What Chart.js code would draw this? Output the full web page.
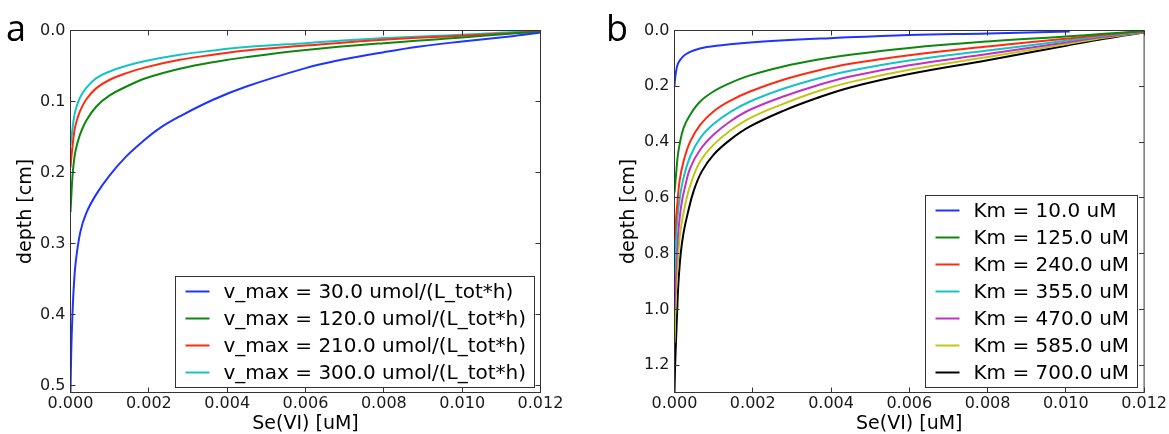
<!DOCTYPE html>
<html>
<head>
<meta charset="utf-8">
<script src="https://cdn.jsdelivr.net/npm/chart.js@4.4.1/dist/chart.umd.min.js"></script>
<style>
  html, body { margin: 0; padding: 0; background: #fff; }
  #wrap { position: relative; width: 1169px; height: 434px; overflow: hidden; }
  .panel { position: absolute; top: 0; height: 434px; }
  #pa { left: 0; width: 584px; }
  #pb { left: 584px; width: 585px; }
  .tag { position: absolute; top: 10px; font-family: "Open Sans", sans-serif; font-size: 36px; line-height: 1; color: #000; }
</style>
</head>
<body>
<div id="wrap">
  <div class="panel" id="pa"><canvas id="chartA" width="584" height="434"></canvas></div>
  <div class="panel" id="pb"><canvas id="chartB" width="585" height="434"></canvas></div>
  <div class="tag" style="left:6px">a</div>
  <div class="tag" style="left:606px">b</div>
</div>
<script>
// ----- axis ticks -----
const seTicks = [0, 0.002, 0.004, 0.006, 0.008, 0.010, 0.012];
const seTickLabels = ['0.000', '0.002', '0.004', '0.006', '0.008', '0.010', '0.012'];
const depthTicksA = [0, 0.1, 0.2, 0.3, 0.4, 0.5];
const depthTickLabelsA = ['0.0', '0.1', '0.2', '0.3', '0.4', '0.5'];
const depthTicksB = [0, 0.2, 0.4, 0.6, 0.8, 1.0, 1.2];
const depthTickLabelsB = ['0.0', '0.2', '0.4', '0.6', '0.8', '1.0', '1.2'];

// ----- panel a: [Se(VI) uM, depth cm] -----
const vmax30 = [[0.012, 0.003], [0.01122, 0.0084], [0.010, 0.0155], [0.00892, 0.0225], [0.008, 0.0305],
  [0.00679, 0.0427], [0.006, 0.053], [0.00449, 0.0789], [0.00364, 0.0976],
  [0.00279, 0.121], [0.00228, 0.1375], [0.00185, 0.156], [0.00143, 0.177], [0.001, 0.204],
  [0.00066, 0.2305], [0.0004, 0.2575], [0.00025, 0.284], [0.00013, 0.328], [0.00008, 0.365],
  [0.00005, 0.40], [0.00002, 0.45], [0, 0.51]];
const vmax120 = [[0.012, 0.002], [0.01122, 0.0046], [0.010, 0.0099], [0.008, 0.0178], [0.006, 0.0275],
  [0.00449, 0.0375], [0.00364, 0.0446], [0.00279, 0.054], [0.00194, 0.067],
  [0.00143, 0.0789], [0.001, 0.0915], [0.00066, 0.107], [0.0004, 0.127], [0.00024, 0.147],
  [0.00013, 0.169], [0.00008, 0.188], [0.00005, 0.206], [0.00002, 0.234], [0, 0.256]];
const vmax210 = [[0.012, 0.0015], [0.01122, 0.0037], [0.010, 0.0075], [0.008, 0.0131], [0.006, 0.0213],
  [0.00449, 0.0282], [0.00364, 0.0342], [0.00279, 0.0413], [0.00194, 0.0516],
  [0.00143, 0.060], [0.001, 0.0694], [0.00066, 0.0812], [0.0004, 0.0972], [0.00024, 0.114],
  [0.00013, 0.133], [0.00008, 0.149], [0.00005, 0.164], [0.00002, 0.18], [0, 0.193]];
const vmax300 = [[0.012, 0.001], [0.01122, 0.0023], [0.010, 0.006], [0.008, 0.0107], [0.006, 0.0178],
  [0.00449, 0.0234], [0.00364, 0.0282], [0.00279, 0.0342], [0.00194, 0.0427],
  [0.00143, 0.0497], [0.001, 0.0577], [0.00066, 0.067], [0.0004, 0.0808], [0.00024, 0.095],
  [0.00013, 0.112], [0.00008, 0.126], [0.00005, 0.139], [0.00002, 0.152], [0, 0.161]];
const labelsA = ['v_max = 30.0 umol/(L_tot*h)', 'v_max = 120.0 umol/(L_tot*h)',
  'v_max = 210.0 umol/(L_tot*h)', 'v_max = 300.0 umol/(L_tot*h)'];

// ----- panel b -----
const km10 = [[0.0101, 0.004], [0.008, 0.0107], [0.006, 0.0158], [0.003975, 0.0274],
  [0.00227, 0.0394], [0.00142, 0.049], [0.000825, 0.0595], [0.000485, 0.0717], [0.00027, 0.087],
  [0.000145, 0.105], [0.000077, 0.123], [0.00004, 0.147], [0.00001, 0.18], [0, 0.2]];
const km125 = [[0.012, 0.002], [0.01098, 0.0118], [0.010, 0.0215], [0.008, 0.0394], [0.006, 0.0625],
  [0.00449, 0.087], [0.00364, 0.105], [0.00278, 0.129], [0.00193, 0.161],
  [0.00142, 0.1885], [0.000996, 0.2186], [0.000656, 0.2545], [0.0004, 0.302], [0.00023, 0.35],
  [0.000128, 0.41], [0.000077, 0.457], [0.00004, 0.517], [0, 0.58]];
const km240 = [[0.012, 0.003], [0.01098, 0.0154], [0.010, 0.0297], [0.008, 0.0573], [0.006, 0.0885],
  [0.00449, 0.1194], [0.00364, 0.1444], [0.00278, 0.1767], [0.00193, 0.2186],
  [0.00142, 0.252], [0.000996, 0.29], [0.000656, 0.338], [0.0004, 0.398], [0.00023, 0.4695],
  [0.000128, 0.541], [0.000077, 0.613], [0.00003, 0.69], [0, 0.75]];
const km355 = [[0.012, 0.004], [0.01098, 0.019], [0.010, 0.0369], [0.008, 0.0717], [0.006, 0.1075],
  [0.00449, 0.1444], [0.00364, 0.173], [0.00278, 0.209], [0.00193, 0.2545],
  [0.00142, 0.2925], [0.000996, 0.3355], [0.000656, 0.3857], [0.0004, 0.4516], [0.00023, 0.529],
  [0.000128, 0.607], [0.00007, 0.68], [0.00003, 0.78], [0, 0.88]];
const km470 = [[0.012, 0.005], [0.01098, 0.0226], [0.010, 0.043], [0.008, 0.0846], [0.006, 0.1245],
  [0.00449, 0.165], [0.00364, 0.197], [0.00278, 0.2366], [0.00193, 0.284],
  [0.00142, 0.326], [0.000996, 0.374], [0.000656, 0.4276], [0.0004, 0.493], [0.00027, 0.56],
  [0.00018, 0.62], [0.000094, 0.726], [0.00004, 0.846], [0, 1.0]];
const km585 = [[0.012, 0.006], [0.01098, 0.026], [0.010, 0.049], [0.008, 0.095], [0.006, 0.1405],
  [0.00449, 0.185], [0.00364, 0.2186], [0.00278, 0.263], [0.00193, 0.314],
  [0.00142, 0.3595], [0.000996, 0.41], [0.000656, 0.4695], [0.00045, 0.535], [0.0003, 0.607],
  [0.000145, 0.726], [0.000077, 0.846], [0.00003, 0.965], [0, 1.12]];
const km700 = [[0.012, 0.007], [0.01098, 0.0297], [0.010, 0.0548], [0.008, 0.1066], [0.006, 0.156],
  [0.00449, 0.204], [0.00364, 0.242], [0.00278, 0.288], [0.00193, 0.344],
  [0.00142, 0.392], [0.000996, 0.4455], [0.000698, 0.505], [0.00049, 0.575], [0.00033, 0.66],
  [0.00023, 0.726], [0.00016, 0.798], [0.0001, 0.905], [0.00007, 1.0],
  [0.00004, 1.108], [0.000015, 1.204], [0, 1.2975]];
const labelsB = ['Km = 10.0 uM', 'Km = 125.0 uM', 'Km = 240.0 uM', 'Km = 355.0 uM',
  'Km = 470.0 uM', 'Km = 585.0 uM', 'Km = 700.0 uM'];

// matplotlib classic colours
const colorsA = ['#1f35ff', '#0e870e', '#ff2a10', '#14c4c4'];
const colorsB = ['#1f35ff', '#0e870e', '#ff2a10', '#14c4c4', '#c430c4', '#c4c414', '#000000'];

Chart.defaults.font.family = '"DejaVu Sans", sans-serif';
Chart.defaults.color = '#1a1a1a';

const toPoints = pairs => pairs.map(p => ({ x: p[0], y: p[1] }));

// frame + inward ticks on all four sides
const frameTicks = {
  id: 'frameTicks',
  afterDatasetsDraw(chart) {
    const { ctx, chartArea: a, scales: { x, y } } = chart;
    const L = 5;
    ctx.save();
    ctx.strokeStyle = '#333';
    ctx.lineWidth = 1;
    ctx.beginPath();
    x.ticks.forEach(t => {
      const px = Math.round(x.getPixelForValue(t.value) - 0.5) + 0.5;
      ctx.moveTo(px, a.bottom); ctx.lineTo(px, a.bottom - L);
      ctx.moveTo(px, a.top); ctx.lineTo(px, a.top + L);
    });
    y.ticks.forEach(t => {
      const py = Math.round(y.getPixelForValue(t.value) - 0.5) + 0.5;
      ctx.moveTo(a.left, py); ctx.lineTo(a.left + L, py);
      ctx.moveTo(a.right, py); ctx.lineTo(a.right - L, py);
    });
    ctx.stroke();
    ctx.strokeRect(a.left, a.top, a.right - a.left, a.bottom - a.top);
    ctx.restore();
  }
};

// legend box inside the lower right corner of the axes
const boxLegend = {
  id: 'boxLegend',
  afterDraw(chart, args, opts) {
    const { ctx, chartArea: a } = chart;
    const items = chart.data.datasets;
    ctx.save();
    ctx.font = '20px "DejaVu Sans"';
    const textW = Math.max(...items.map(d => ctx.measureText(d.label).width));
    const w = 10 + 24 + 14 + textW + 9;
    const h = 15 + (items.length - 1) * 27 + 16;
    const right = Math.round(a.right - opts.right) + 0.5;
    const bottom = Math.round(a.bottom - opts.bottom) + 0.5;
    const left = Math.round(right - w) + 0.5;
    const top = Math.round(bottom - h) + 0.5;
    ctx.fillStyle = '#fff';
    ctx.fillRect(left, top, right - left, bottom - top);
    ctx.strokeStyle = '#333';
    ctx.lineWidth = 1;
    ctx.strokeRect(left, top, right - left, bottom - top);
    ctx.textBaseline = 'middle';
    ctx.textAlign = 'left';
    items.forEach((d, i) => {
      const cy = top + 15 + i * 27;
      ctx.strokeStyle = d.borderColor;
      ctx.lineWidth = 2;
      ctx.beginPath();
      ctx.moveTo(left + 10, cy); ctx.lineTo(left + 34, cy);
      ctx.stroke();
      ctx.fillStyle = '#000';
      ctx.fillText(d.label, left + 48, cy + 1);
    });
    ctx.restore();
  }
};

function makePanel(canvasId, series, labels, colors, yMax, yTicks, yTickLabels, axisW, titlePad, padRight) {
  return new Chart(document.getElementById(canvasId), {
    type: 'line',
    data: {
      datasets: series.map((s, i) => ({
        label: labels[i],
        data: toPoints(s),
        borderColor: colors[i],
        borderWidth: 2,
        pointRadius: 0,
        fill: false,
        tension: 0.4
      }))
    },
    options: {
      indexAxis: 'y',
      responsive: false,
      animation: false,
      layout: { padding: { top: 30.5, right: padRight, bottom: 0, left: 0 } },
      plugins: {
        legend: { display: false },
        tooltip: { enabled: false },
        boxLegend: { right: 7, bottom: 6 }
      },
      scales: {
        x: {
          type: 'linear',
          position: 'bottom',
          min: 0, max: 0.012,
          grid: { display: false, drawTicks: false },
          border: { display: false },
          afterBuildTicks: s => { s.ticks = seTicks.map(v => ({ value: v })); },
          afterFit: s => { s.height = 41.5; },
          ticks: {
            padding: 2,
            maxRotation: 0,
            font: { size: 16 },
            callback: (v, i) => seTickLabels[i]
          },
          title: {
            display: true,
            text: 'Se(VI) [uM]',
            font: { size: 19, lineHeight: 1 },
            padding: { top: 0, bottom: 0 },
            color: '#000'
          }
        },
        y: {
          type: 'linear',
          position: 'left',
          reverse: true,
          min: 0, max: yMax,
          grid: { display: false, drawTicks: false },
          border: { display: false },
          afterBuildTicks: s => { s.ticks = yTicks.map(v => ({ value: v })); },
          afterFit: s => { s.width = axisW; },
          ticks: {
            padding: 5,
            font: { size: 16 },
            callback: (v, i) => yTickLabels[i]
          },
          title: {
            display: true,
            text: 'depth [cm]',
            font: { size: 19 },
            padding: { top: titlePad, bottom: 0 },
            color: '#000'
          }
        }
      }
    },
    plugins: [frameTicks, boxLegend]
  });
}

makePanel('chartA', [vmax30, vmax120, vmax210, vmax300], labelsA, colorsA,
  0.51, depthTicksA, depthTickLabelsA, 70.5, 15, 43.5);
makePanel('chartB', [km10, km125, km240, km355, km470, km585, km700], labelsB, colorsB,
  1.2975, depthTicksB, depthTickLabelsB, 90.5, 34, 24.5);
</script>
</body>
</html>
